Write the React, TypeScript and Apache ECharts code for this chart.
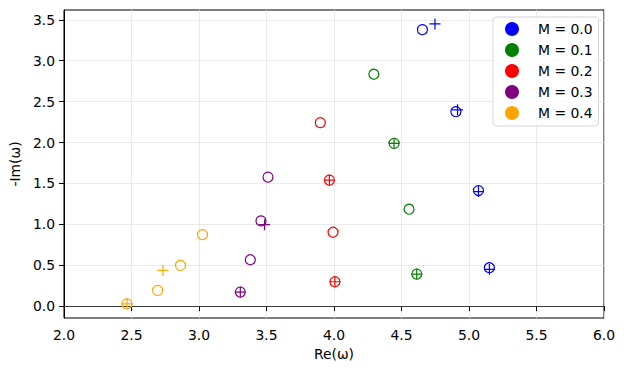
import React, { useEffect, useRef } from "react";
import * as echarts from "echarts";

const mLabels = ["M = 0.0", "M = 0.1", "M = 0.2", "M = 0.3", "M = 0.4"];
const mColors = ["#0000ff", "#008000", "#ff0000", "#800080", "#ffa500"];

// open-circle points, per M
const circleRe = [
  [4.655, 4.903, 5.07, 5.151],
  [4.295, 4.445, 4.556, 4.613],
  [3.899, 3.966, 3.993, 4.007],
  [3.511, 3.459, 3.38, 3.306],
  [3.026, 2.863, 2.694, 2.467],
];
const circleIm = [
  [3.38, 2.377, 1.413, 0.47],
  [2.835, 1.989, 1.185, 0.392],
  [2.243, 1.54, 0.903, 0.298],
  [1.577, 1.042, 0.567, 0.172],
  [0.874, 0.498, 0.192, 0.028],
];

// plus-marker points, per M
const plusRe = [
  [4.748, 4.915, 5.07, 5.151],
  [4.445, 4.613],
  [3.966, 4.007],
  [3.306, 3.486],
  [2.467, 2.733],
];
const plusIm = [
  [3.45, 2.4, 1.4, 0.45],
  [1.989, 0.392],
  [1.54, 0.298],
  [0.172, 0.996],
  [0.028, 0.437],
];

const xTicks = [2.0, 2.5, 3.0, 3.5, 4.0, 4.5, 5.0, 5.5, 6.0];
const yTicks = [0.0, 0.5, 1.0, 1.5, 2.0, 2.5, 3.0, 3.5];

const FONT = "DejaVu Sans";
const PLUS = "path://M5,0L5,10M0,5L10,5";

export default function App() {
  const ref = useRef<HTMLDivElement>(null);
  useEffect(() => {
    if (!ref.current) return;
    const chart = echarts.init(ref.current, null, { renderer: "svg" });
    const series: any[] = [];
    mLabels.forEach((name, i) => {
      series.push({
        name,
        type: "scatter",
        symbol: "circle",
        symbolSize: 10,
        data: circleRe[i].map((x, j) => [x, circleIm[i][j]]),
        itemStyle: { color: "rgba(0,0,0,0)", borderColor: mColors[i], borderWidth: 1.2, opacity: 1 },
        emphasis: { disabled: true },
        z: 3,
        ...(i === 0
          ? {
              markLine: {
                silent: true,
                symbol: "none",
                label: { show: false },
                lineStyle: { color: "#3a3a3a", width: 1, type: "solid", opacity: 1 },
                data: [{ yAxis: 0 }],
                z: 1,
              },
            }
          : {}),
      });
    });
    mLabels.forEach((name, i) => {
      series.push({
        name: name + " +",
        type: "scatter",
        symbol: PLUS,
        symbolSize: 11,
        data: plusRe[i].map((x, j) => [x, plusIm[i][j]]),
        itemStyle: { color: "rgba(0,0,0,0)", borderColor: mColors[i], borderWidth: 1.2, opacity: 1 },
        emphasis: { disabled: true },
        z: 4,
      });
    });
    chart.setOption({
      animation: false,
      backgroundColor: "#ffffff",
      grid: {
        left: 62,
        right: 20,
        top: 10,
        bottom: 53,
        show: true,
        borderColor: "#000000",
        borderWidth: 1,
        backgroundColor: "transparent",
      },
      legend: {
        orient: "vertical",
        left: 493,
        top: 17,
        padding: [5, 6, 6, 12],
        itemGap: 7,
        itemWidth: 14,
        itemHeight: 14,
        borderColor: "#d6d6d6",
        borderWidth: 1,
        borderRadius: 3,
        backgroundColor: "rgba(255,255,255,0.8)",
        textStyle: { fontFamily: FONT, fontSize: 13.9, color: "#000", padding: [0, 0, 0, 14] },
        data: mLabels.map((name, i) => ({
          name,
          icon: "circle",
          itemStyle: { color: mColors[i], borderWidth: 0, opacity: 1 },
        })),
      },
      xAxis: {
        type: "value",
        min: 2,
        max: 6,
        interval: 0.5,
        name: "Re(ω)",
        nameLocation: "middle",
        nameGap: 29,
        nameTextStyle: { fontFamily: FONT, fontSize: 13.9, color: "#000" },
        axisLine: { show: true, lineStyle: { color: "#000", width: 1 } },
        axisTick: { show: true, inside: false, length: 5, lineStyle: { color: "#000" }, customValues: xTicks },
        axisLabel: {
          fontFamily: FONT,
          fontSize: 13.9,
          color: "#000",
          margin: 10,
          customValues: xTicks,
          formatter: (v: number) => v.toFixed(1),
        },
        splitLine: { show: true, lineStyle: { color: "#e4e4e4", width: 0.8 } },
      },
      yAxis: {
        type: "value",
        min: -0.145,
        max: 3.62,
        name: "-Im(ω)",
        nameLocation: "middle",
        nameGap: 40,
        nameRotate: 90,
        nameTextStyle: { fontFamily: FONT, fontSize: 13.9, color: "#000" },
        axisLine: { show: true, onZero: false, lineStyle: { color: "#000", width: 1 } },
        axisTick: { show: true, inside: false, length: 5, lineStyle: { color: "#000" }, customValues: yTicks },
        axisLabel: {
          fontFamily: FONT,
          fontSize: 13.9,
          color: "#000",
          margin: 9,
          customValues: yTicks,
          formatter: (v: number) => v.toFixed(1),
        },
        splitLine: { show: true, lineStyle: { color: "#e4e4e4", width: 0.8 } },
      },
      series,
    });
    return () => chart.dispose();
  }, []);
  return (
    <div
      ref={ref}
      style={{ position: "fixed", left: 0, top: 0, width: 624, height: 371, background: "#fff" }}
    />
  );
}
